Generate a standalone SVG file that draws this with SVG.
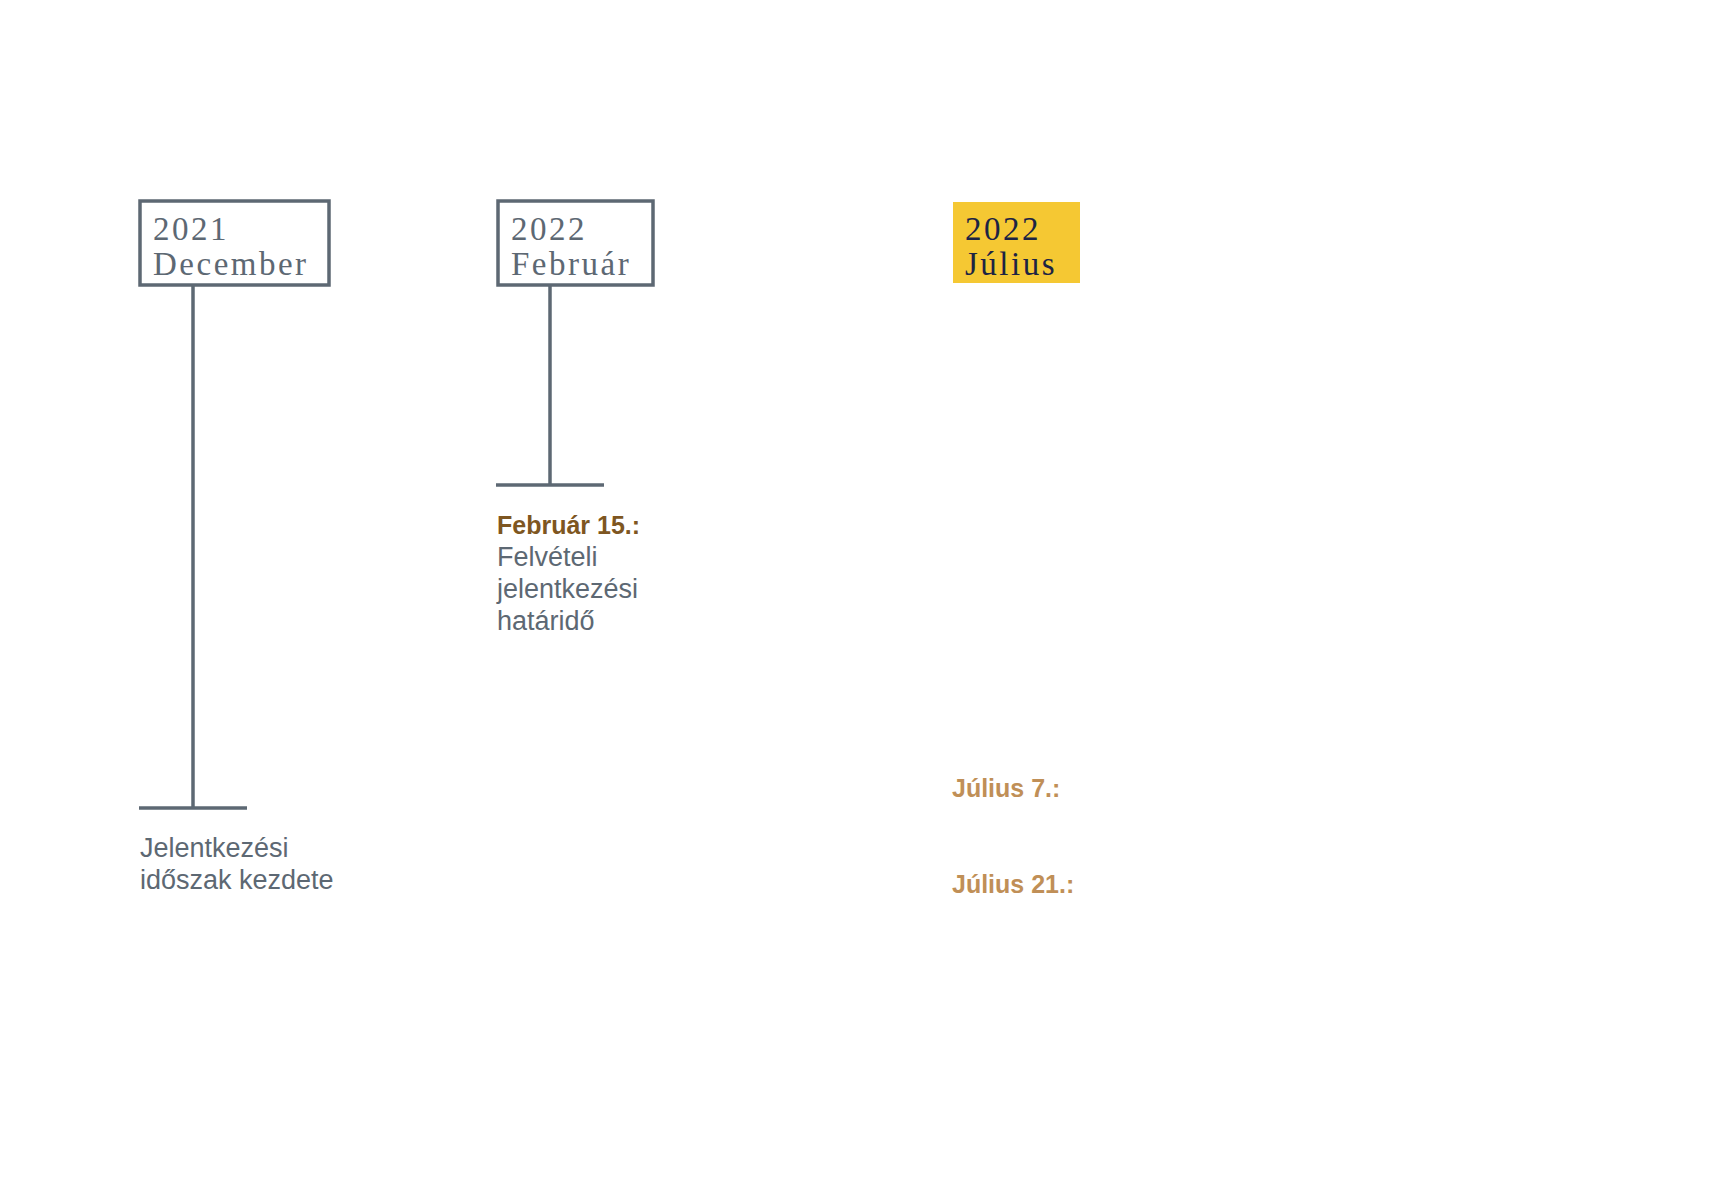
<svg xmlns="http://www.w3.org/2000/svg" width="1720" height="1187" viewBox="0 0 1720 1187">
<style>
.box{fill:#fff;stroke:#5d6873;stroke-width:3.5}
.ln{stroke:#5d6873;stroke-width:3.5;fill:none}
.yr{font-family:"Liberation Serif","DejaVu Serif",serif;font-size:33px;fill:#5d6873;letter-spacing:2.5px}
.yrd{fill:#1d2443}
.lab{font-family:"Liberation Sans","Noto Sans",sans-serif;font-size:27px;fill:#5d6873}
.dt{font-weight:bold;font-size:25px}
.brown{fill:#7e5621}
.gold{fill:#c08f57}
</style>
<rect width="1720" height="1187" fill="#fff"/>
<g id="connectors">
<line class="ln" x1="193" y1="286" x2="193" y2="808"/>
<line class="ln" x1="139" y1="808" x2="247" y2="808"/>
<line class="ln" x1="550" y1="286" x2="550" y2="485"/>
<line class="ln" x1="496" y1="485" x2="604" y2="485"/>
</g>
<g id="node-dec2021">
<rect class="box" x="140" y="201" width="189" height="84"/>
<text class="yr" x="153" y="240">2021</text>
<text class="yr" x="153" y="275">December</text>
</g>
<g id="node-feb2022">
<rect class="box" x="498" y="201" width="155" height="84"/>
<text class="yr" x="511" y="240">2022</text>
<text class="yr" x="511" y="275">Február</text>
</g>
<g id="node-jul2022">
<rect x="953" y="202" width="127" height="81" fill="#f5c833"/>
<text class="yr yrd" x="965" y="240">2022</text>
<text class="yr yrd" x="965" y="275">Július</text>
</g>
<g id="label-dec">
<text class="lab" x="140" y="857">Jelentkezési</text>
<text class="lab" x="140" y="889">időszak kezdete</text>
</g>
<g id="label-feb">
<text class="lab dt brown" x="497" y="534">Február 15.:</text>
<text class="lab" x="497" y="566">Felvételi</text>
<text class="lab" x="497" y="598">jelentkezési</text>
<text class="lab" x="497" y="630">határidő</text>
</g>
<g id="label-jul7">
<text class="lab dt gold" x="952" y="797">Július 7.:</text>
</g>
<g id="label-jul21">
<text class="lab dt gold" x="952" y="893">Július 21.:</text>
</g>
</svg>
